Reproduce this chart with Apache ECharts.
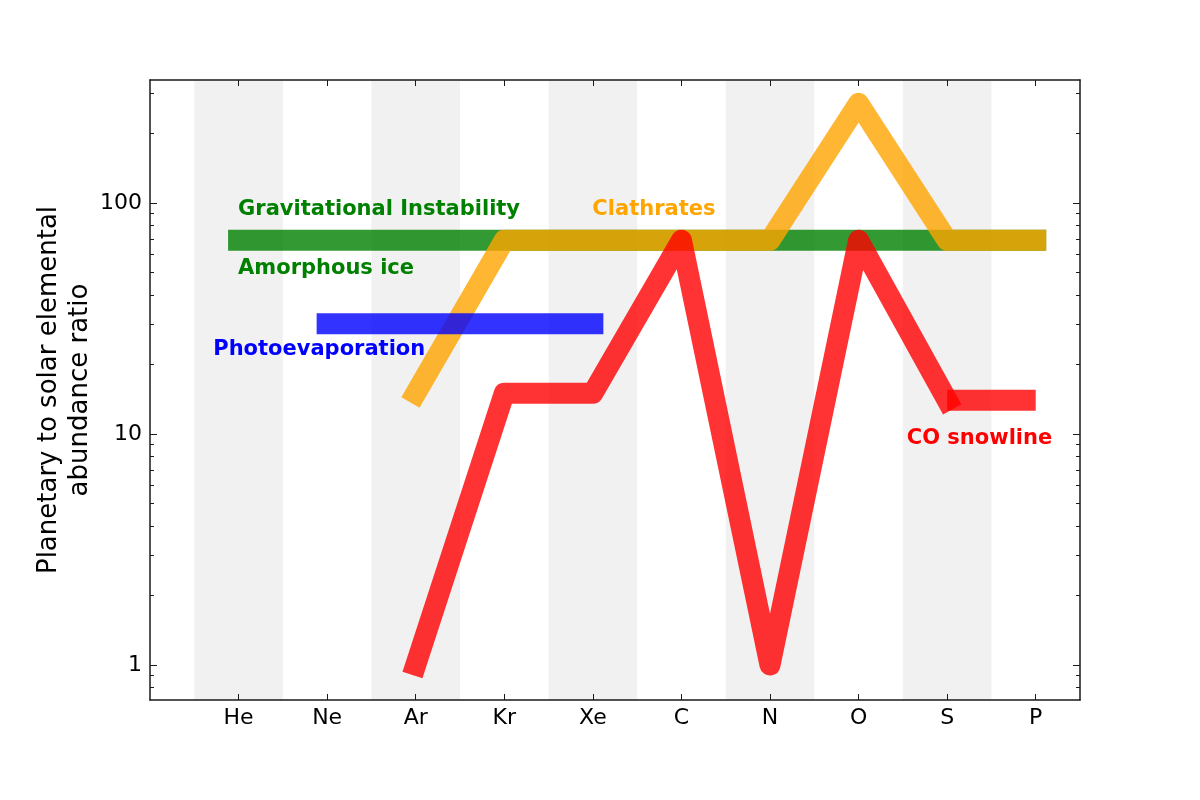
<!DOCTYPE html>
<html>
<head>
<meta charset="utf-8">
<script src="https://cdn.jsdelivr.net/npm/echarts@6/dist/echarts.min.js"></script>
<style>
  html, body { margin: 0; padding: 0; background: #fff; }
  #main { width: 1200px; height: 800px; }
</style>
</head>
<body>
<div id="main"></div>
<script>
const categories = ['He', 'Ne', 'Ar', 'Kr', 'Xe', 'C', 'N', 'O', 'S', 'P']
const shaded = ['He', 'Ar', 'Xe', 'N', 'S']
const yMajor = [1, 10, 100]
const yMinor = [0.8, 0.9, 2, 3, 4, 5, 6, 7, 8, 9, 20, 30, 40, 50, 60, 70, 80, 90, 200, 300]

// Gravitational instability / amorphous ice
const gravElems = ['He', 'P']
const gravValues = [69, 69]
// Photoevaporation
const photoElems = ['Ne', 'Xe']
const photoValues = [30, 30]
// Clathrates
const clathElems = ['Ar', 'Kr', 'Xe', 'C', 'N', 'O', 'S', 'P']
const clathValues = [15, 69, 69, 69, 69, 270, 69, 69]
// CO snowline
const coElems = ['Ar', 'Kr', 'Xe', 'C', 'N', 'O', 'S']
const coValues = [1, 15, 15, 69, 1, 69, 14]
const coTailElems = ['S', 'P']
const coTailValues = [14, 14]

const annotations = [
  { text: 'Gravitational Instability', x: 1.0, y: 93, color: '#008000' },
  { text: 'Amorphous ice', x: 1.0, y: 52, color: '#008000' },
  { text: 'Clathrates', x: 5.0, y: 93, color: '#ffa500' },
  { text: 'Photoevaporation', x: 0.72, y: 23, color: '#0000ff' },
  { text: 'CO snowline', x: 8.55, y: 9.55, color: '#ff0000' }
]

const xTicks = categories.map((c, i) => i + 1)
const pos = name => categories.indexOf(name) + 1
const pairs = (elems, values) => elems.map((e, i) => [pos(e), values[i]])

const yMin = 0.7057
const yMax = 340.8
const axisColor = '#1a1a1a'
const font = 'DejaVu Sans'

function lineSeries(name, elems, values, color, z, cap) {
  return {
    name: name,
    type: 'line',
    data: pairs(elems, values),
    z: z,
    symbol: 'none',
    silent: true,
    lineStyle: {
      width: 21,
      color: color,
      opacity: 0.8,
      cap: cap || 'square',
      join: 'round'
    }
  }
}

function yAxisDef(position, ticks, len, showLine, showLabel) {
  return {
    type: 'log',
    position: position,
    min: yMin,
    max: yMax,
    z: 10,
    axisLine: { show: showLine, lineStyle: { color: axisColor, width: 1.5 } },
    axisTick: { show: true, inside: true, length: len, customValues: ticks, lineStyle: { color: axisColor, width: 1 } },
    axisLabel: showLabel
      ? { show: true, customValues: yMajor, fontSize: 22, color: '#000', fontFamily: font, margin: 8 }
      : { show: false },
    splitLine: { show: false },
    minorTick: { show: false }
  }
}

const chart = echarts.init(document.getElementById('main'))
const leftMain = yAxisDef('left', yMajor, 7, true, true)
leftMain.name = 'Planetary to solar elemental\nabundance ratio'
leftMain.nameLocation = 'middle'
leftMain.nameRotate = 90
leftMain.nameGap = 54
leftMain.nameMoveOverlap = false
leftMain.nameTextStyle = { fontSize: 26, lineHeight: 31, color: '#000', fontFamily: font }

chart.setOption({
  animation: false,
  backgroundColor: '#fff',
  textStyle: { fontFamily: font },
  grid: { left: 150, right: 120, top: 80, bottom: 100, containLabel: false },
  xAxis: [{
    type: 'value',
    position: 'bottom',
    min: 0,
    max: 10.5,
    z: 10,
    axisLine: { show: true, lineStyle: { color: axisColor, width: 1.5 } },
    axisTick: { show: true, inside: true, length: 6, customValues: xTicks, lineStyle: { color: axisColor, width: 1 } },
    axisLabel: {
      customValues: xTicks,
      formatter: v => categories[Math.round(v) - 1] || '',
      fontSize: 22,
      color: '#000',
      fontFamily: font,
      margin: 7
    },
    splitLine: { show: false }
  }, {
    type: 'value',
    position: 'top',
    min: 0,
    max: 10.5,
    z: 10,
    axisLine: { show: true, lineStyle: { color: axisColor, width: 1.5 } },
    axisTick: { show: true, inside: true, length: 6, customValues: xTicks, lineStyle: { color: axisColor, width: 1 } },
    axisLabel: { show: false },
    splitLine: { show: false }
  }],
  yAxis: [
    leftMain,
    yAxisDef('left', yMinor, 4, false, false),
    yAxisDef('right', yMajor, 7, true, false),
    yAxisDef('right', yMinor, 4, false, false)
  ],
  series: [
    {
      name: 'bands',
      type: 'line',
      data: [],
      z: 1,
      silent: true,
      markArea: {
        silent: true,
        itemStyle: { color: '#f1f1f1' },
        data: shaded.map(e => [{ xAxis: pos(e) - 0.5, yAxis: yMin }, { xAxis: pos(e) + 0.5, yAxis: yMax }])
      }
    },
    lineSeries('Gravitational Instability', gravElems, gravValues, '#008000', 2),
    lineSeries('Clathrates', clathElems, clathValues, '#ffa500', 3),
    lineSeries('Photoevaporation', photoElems, photoValues, '#0000ff', 4),
    lineSeries('CO snowline', coElems, coValues, '#ff0000', 5),
    lineSeries('CO snowline tail', coTailElems, coTailValues, '#ff0000', 5, 'butt'),
    {
      name: 'labels',
      type: 'scatter',
      z: 6,
      silent: true,
      symbolSize: 1,
      itemStyle: { color: 'rgba(0,0,0,0)', opacity: 1 },
      data: annotations.map(a => ({
        value: [a.x, a.y],
        label: {
          show: true,
          position: [0, 0],
          align: 'left',
          verticalAlign: 'middle',
          formatter: a.text,
          color: a.color,
          opacity: 1,
          fontSize: 21,
          fontWeight: 'bold',
          fontFamily: font
        }
      }))
    }
  ]
})
</script>
</body>
</html>
